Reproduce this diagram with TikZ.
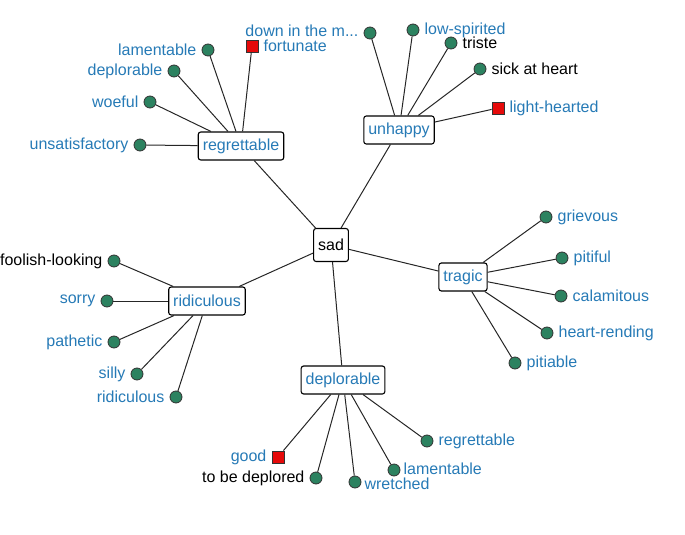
\documentclass[tikz,border=0pt]{standalone}
\usepackage{fontspec}
\setmainfont{Liberation Sans}
\usetikzlibrary{positioning}
\definecolor{wordblue}{RGB}{38,122,182}
\definecolor{leafgreen}{RGB}{44,130,96}
\definecolor{antred}{RGB}{230,10,10}

\begin{document}
\begin{tikzpicture}[x=1pt, y=-1pt,
                    every node/.style = {font=\fontsize{16}{18}\selectfont},
                    hub/.style = {
                        draw=black, fill=white, text=wordblue,
                        rounded corners=2.5pt, line width=1.1pt,
                        inner xsep=4.5pt, minimum height=28pt
                      },
                    root/.style = {
                        hub, text=black, minimum width=34pt, minimum height=33pt
                      },
                    leaf/.style = {
                        circle, draw=black!80, fill=leafgreen,
                        minimum size=12pt, inner sep=0pt, line width=0.8pt
                      },
                    anto/.style = {
                        rectangle, draw=black!80, fill=antred,
                        minimum size=12pt, inner sep=0pt, line width=0.8pt
                      },
                    word/.style = {text=wordblue, inner sep=1pt},
                    plain/.style = {text=black, inner sep=1pt},
                    link/.style = {line width=1pt, black!85}]
  \useasboundingbox (0,0) rectangle (685,535);

  % centre and the five senses
  \node[root] (sad) at (331,245) {sad};
  \node[hub] (regret) at (241,146) {regrettable};
  \node[hub] (unhappy) at (399,130) {unhappy};
  \node[hub] (tragic) at (463,277) {tragic};
  \node[hub] (ridic) at (207,301) {ridiculous};
  \node[hub] (deplor) at (343,380) {deplorable};

  % regrettable
  \node[leaf, label={[word, label distance=4pt]left:unsatisfactory}] (unsat) at (140,145) {};
  \node[leaf, label={[word, label distance=4pt]left:woeful}] (woeful) at (150,102) {};
  \node[leaf, label={[word, label distance=4pt]left:deplorable}] (deplorA) at (174,71) {};
  \node[leaf, label={[word, label distance=4pt]left:lamentable}] (lamentA) at (208,50) {};
  \node[anto, label={[word, label distance=4pt]right:fortunate}] (fortun) at (252,46) {};

  % unhappy
  \node[leaf, label={[word, label distance=4pt, yshift=2pt]left:down in the m...}] (downin) at (370,33) {};
  \node[leaf, label={[word, label distance=4pt]right:low-spirited}] (lowspir) at (413,30) {};
  \node[leaf, label={[plain, label distance=4pt]right:triste}] (triste) at (451,43) {};
  \node[leaf, label={[plain, label distance=4pt]right:sick at heart}] (sickat) at (480,69) {};
  \node[anto, label={[word, label distance=4pt]right:light-hearted}] (lighth) at (498,108) {};

  % tragic
  \node[leaf, label={[word, label distance=4pt]right:grievous}] (grievous) at (546,217) {};
  \node[leaf, label={[word, label distance=4pt]right:pitiful}] (pitiful) at (562,258) {};
  \node[leaf, label={[word, label distance=4pt]right:calamitous}] (calam) at (561,296) {};
  \node[leaf, label={[word, label distance=4pt]right:heart-rending}] (heartr) at (547,333) {};
  \node[leaf, label={[word, label distance=4pt]right:pitiable}] (pitiable) at (515,363) {};

  % ridiculous
  \node[leaf, label={[plain, label distance=4pt]left:foolish-looking}] (foolish) at (114,261) {};
  \node[leaf, label={[word, label distance=4pt]left:sorry}] (sorry) at (107,301) {};
  \node[leaf, label={[word, label distance=4pt]left:pathetic}] (pathetic) at (114,342) {};
  \node[leaf, label={[word, label distance=4pt]left:silly}] (silly) at (137,374) {};
  \node[leaf, label={[word, label distance=4pt]left:ridiculous}] (ridicB) at (176,397) {};

  % deplorable
  \node[anto, label={[word, label distance=4pt]left:good}] (good) at (278,457) {};
  \node[leaf, label={[plain, label distance=4pt]left:to be deplored}] (tobedep) at (316,478) {};
  \node[leaf, label={[word, label distance=2pt, yshift=-2pt]right:wretched}] (wretched) at (355,482) {};
  \node[leaf, label={[word, label distance=2pt, yshift=1pt]right:lamentable}] (lamentB) at (394,470) {};
  \node[leaf, label={[word, label distance=4pt]right:regrettable}] (regretB) at (427,441) {};

  % connectors
  \foreach \h in {regret,unhappy,tragic,ridic,deplor}
    \draw[link] (sad) -- (\h);
  \foreach \l in {unsat,woeful,deplorA,lamentA,fortun}
    \draw[link] (regret) -- (\l);
  \foreach \l in {downin,lowspir,triste,sickat,lighth}
    \draw[link] (unhappy) -- (\l);
  \foreach \l in {grievous,pitiful,calam,heartr,pitiable}
    \draw[link] (tragic) -- (\l);
  \foreach \l in {foolish,sorry,pathetic,silly,ridicB}
    \draw[link] (ridic) -- (\l);
  \foreach \l in {good,tobedep,wretched,lamentB,regretB}
    \draw[link] (deplor) -- (\l);
\end{tikzpicture}
\end{document}
